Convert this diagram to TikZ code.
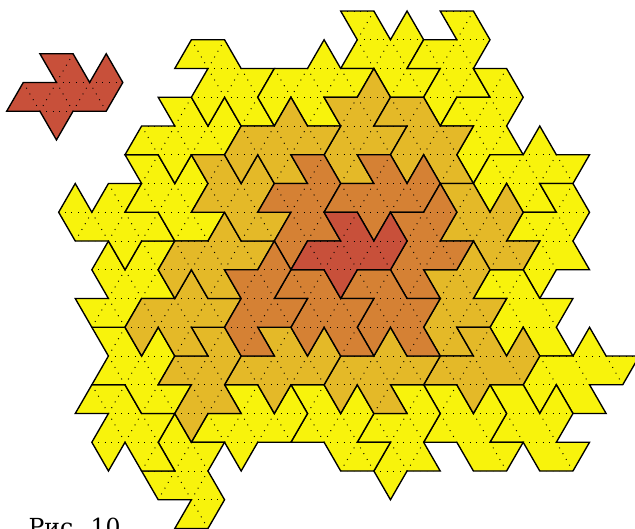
\documentclass[tikz,border=0pt]{standalone}
\usepackage{xcolor}
\usepackage{fontspec}
\newfontfamily\captionfont{DejaVu Serif}
\definecolor{tileyellow}{RGB}{248,243,12}
\definecolor{tilegold}{RGB}{228,185,40}
\definecolor{tileorange}{RGB}{213,129,52}
\definecolor{tilered}{RGB}{200,80,58}
\tikzset{
  griddots/.style={black,line width=0.95pt,dash pattern=on 0.95pt off 5.687pt,dash phase=0.475pt},
  tileline/.style={black,line width=1.35pt,line join=miter}
}
\newcommand{\griddraw}{%
  \foreach \r in {0,2,...,18}
    \draw[griddots] (-2,\r) -- (40,\r);
  \foreach \r in {1,3,...,17}
    \draw[griddots] (-1,\r) -- (41,\r);
  \foreach \c in {-20,-18,...,40} {
    \draw[griddots] (\c,0) -- (\c+20,20);
    \draw[griddots] (\c,0) -- (\c-20,20);
  }
}
\newcommand{\tile}[2]{%
  \fill[#1] plot coordinates {#2} -- cycle;
  \begin{scope}
    \clip plot coordinates {#2} -- cycle;
    \griddraw
  \end{scope}
  \draw[tileline] plot coordinates {#2} -- cycle;
}
\begin{document}
\begin{tikzpicture}[x=16.59pt, y=-28.75pt]
  \useasboundingbox (-0.536,-0.383) rectangle (37.74,17.983);
  \clip (-0.536,-0.383) rectangle (37.74,17.983);
  % --- single tile, top left ---------------------------------------------
  \begin{scope}[xshift=-2.2pt,yshift=-42.7pt]
    \tile{tilered}{(2,0) (4,0) (5,1) (6,0) (7,1) (6,2) (4,2) (3,3) (2,2) (0,2) (1,1) (3,1)}
  \end{scope}
  % --- outer ring ---------------------------------------------------------
  \tile{tileyellow}{(20,0) (22,0) (23,1) (24,0) (25,1) (24,2) (26,2) (25,3) (23,3) (22,2) (20,2) (21,1)}
  \tile{tileyellow}{(26,0) (28,0) (29,1) (28,2) (29,3) (27,3) (26,4) (25,3) (26,2) (24,2) (25,1) (27,1)}
  \tile{tileyellow}{(28,2) (30,2) (31,3) (30,4) (31,5) (29,5) (28,6) (27,5) (28,4) (26,4) (27,3) (29,3)}
  \tile{tileyellow}{(29,5) (31,5) (32,4) (33,5) (35,5) (34,6) (32,6) (33,7) (31,7) (30,6) (29,7) (28,6)}
  \tile{tileyellow}{(32,6) (34,6) (35,7) (34,8) (35,9) (33,9) (32,10) (31,9) (32,8) (30,8) (31,7) (33,7)}
  \tile{tileyellow}{(29,9) (31,9) (32,10) (34,10) (33,11) (34,12) (32,12) (31,11) (30,12) (29,11) (30,10) (28,10)}
  \tile{tileyellow}{(32,12) (34,12) (35,11) (36,12) (38,12) (37,13) (35,13) (36,14) (34,14) (33,13) (32,14) (31,13)}
  \tile{tileyellow}{(29,13) (31,13) (32,14) (33,13) (34,14) (33,15) (35,15) (34,16) (32,16) (31,15) (29,15) (30,14)}
  \tile{tileyellow}{(25,13) (27,13) (28,14) (29,13) (30,14) (29,15) (31,15) (30,16) (28,16) (27,15) (25,15) (26,14)}
  \tile{tileyellow}{(23,13) (25,13) (26,14) (25,15) (26,16) (24,16) (23,17) (22,16) (23,15) (21,15) (22,14) (24,14)}
  \tile{tileyellow}{(17,13) (19,13) (20,14) (21,13) (22,14) (21,15) (23,15) (22,16) (20,16) (19,15) (17,15) (18,14)}
  \tile{tileyellow}{(12,14) (14,14) (13,13) (15,13) (16,14) (17,13) (18,14) (17,15) (15,15) (14,16) (13,15) (11,15)}
  \tile{tileyellow}{(10,14) (11,15) (13,15) (12,16) (13,17) (12,18) (10,18) (11,17) (9,17) (8,16) (10,16) (9,15)}
  \tile{tileyellow}{(5,13) (7,13) (8,14) (10,14) (9,15) (10,16) (8,16) (7,15) (6,16) (5,15) (6,14) (4,14)}
  \tile{tileyellow}{(5,11) (7,11) (8,12) (9,11) (10,12) (9,13) (11,13) (10,14) (8,14) (7,13) (5,13) (6,12)}
  \tile{tileyellow}{(6,8) (7,9) (8,8) (10,8) (9,9) (10,10) (8,10) (7,11) (5,11) (4,10) (6,10) (5,9)}
  \tile{tileyellow}{(3,7) (4,6) (5,7) (6,6) (8,6) (7,7) (9,7) (10,8) (8,8) (7,9) (6,8) (4,8)}
  \tile{tileyellow}{(7,5) (9,5) (10,6) (11,5) (12,6) (11,7) (13,7) (12,8) (10,8) (9,7) (7,7) (8,6)}
  \tile{tileyellow}{(9,3) (11,3) (12,4) (13,3) (14,4) (13,5) (11,5) (10,6) (9,5) (7,5) (8,4) (10,4)}
  \tile{tileyellow}{(11,1) (13,1) (14,2) (16,2) (15,3) (16,4) (14,4) (13,3) (12,4) (11,3) (12,2) (10,2)}
  \tile{tileyellow}{(16,2) (18,2) (19,1) (20,2) (22,2) (21,3) (19,3) (20,4) (18,4) (17,3) (16,4) (15,3)}
  % --- middle ring --------------------------------------------------------
  \tile{tilegold}{(22,2) (23,3) (22,4) (24,4) (23,5) (21,5) (22,6) (20,6) (19,5) (20,4) (19,3) (21,3)}
  \tile{tilegold}{(23,3) (25,3) (26,4) (28,4) (27,5) (28,6) (26,6) (25,5) (24,6) (23,5) (24,4) (22,4)}
  \tile{tilegold}{(26,6) (28,6) (29,7) (30,6) (31,7) (30,8) (32,8) (31,9) (29,9) (28,8) (26,8) (27,7)}
  \tile{tilegold}{(28,8) (29,9) (28,10) (30,10) (29,11) (27,11) (28,12) (26,12) (25,11) (26,10) (25,9) (27,9)}
  \tile{tilegold}{(27,11) (29,11) (30,12) (31,11) (32,12) (31,13) (29,13) (28,14) (27,13) (25,13) (26,12) (28,12)}
  \tile{tilegold}{(20,12) (22,12) (23,11) (24,12) (26,12) (25,13) (23,13) (24,14) (22,14) (21,13) (20,14) (19,13)}
  \tile{tilegold}{(15,11) (17,11) (18,12) (19,11) (20,12) (19,13) (17,13) (16,14) (15,13) (13,13) (14,12) (16,12)}
  \tile{tilegold}{(11,11) (13,11) (14,12) (13,13) (14,14) (12,14) (11,15) (10,14) (11,13) (9,13) (10,12) (12,12)}
  \tile{tilegold}{(8,10) (10,10) (11,9) (12,10) (14,10) (13,11) (11,11) (12,12) (10,12) (9,11) (8,12) (7,11)}
  \tile{tilegold}{(10,8) (12,8) (13,7) (14,8) (16,8) (15,9) (13,9) (14,10) (12,10) (11,9) (10,10) (9,9)}
  \tile{tilegold}{(11,5) (13,5) (14,6) (15,5) (16,6) (15,7) (17,7) (16,8) (14,8) (13,7) (11,7) (12,6)}
  \tile{tilegold}{(14,4) (16,4) (17,3) (18,4) (20,4) (19,5) (17,5) (18,6) (16,6) (15,5) (14,6) (13,5)}
  % --- inner ring ---------------------------------------------------------
  \tile{tileorange}{(17,5) (19,5) (20,6) (19,7) (20,8) (18,8) (17,9) (16,8) (17,7) (15,7) (16,6) (18,6)}
  \tile{tileorange}{(21,5) (23,5) (24,6) (25,5) (26,6) (25,7) (23,7) (22,8) (21,7) (19,7) (20,6) (22,6)}
  \tile{tileorange}{(23,7) (25,7) (26,6) (27,7) (26,8) (28,8) (27,9) (25,9) (26,10) (24,10) (23,9) (24,8)}
  \tile{tileorange}{(21,9) (23,9) (24,10) (26,10) (25,11) (26,12) (24,12) (23,11) (22,12) (21,11) (22,10) (20,10)}
  \tile{tileorange}{(17,9) (19,9) (20,10) (22,10) (21,11) (22,12) (20,12) (19,11) (18,12) (17,11) (18,10) (16,10)}
  \tile{tileorange}{(16,8) (17,9) (16,10) (18,10) (17,11) (15,11) (16,12) (14,12) (13,11) (14,10) (13,9) (15,9)}
  % --- centre -------------------------------------------------------------
  \tile{tilered}{(19,7) (21,7) (22,8) (23,7) (24,8) (23,9) (21,9) (20,10) (19,9) (17,9) (18,8) (20,8)}
  \node[anchor=base west,inner sep=0pt,font=\captionfont\fontsize{23.5}{25}\selectfont] (caption) at (1.18,18.26) {Рис. 10};
\end{tikzpicture}
\end{document}
